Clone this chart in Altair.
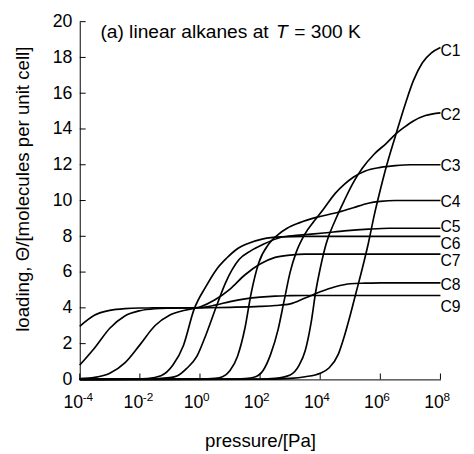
import altair as alt
import pandas as pd

# ---------------- data ----------------
series_names = ["C1", "C2", "C3", "C4", "C5", "C6", "C7", "C8", "C9"]

c1_logp = [-4, 2, 3, 3.5, 4, 4.3, 4.6, 4.8, 5, 5.2, 5.4, 5.6, 5.8, 6, 6.2, 6.5, 6.85, 7.1, 7.4, 7.7, 8]
c1_load = [0, 0.01, 0.06, 0.15, 0.35, 0.65, 1.4, 2.4, 3.6, 4.9, 6.2, 7.6, 9.2, 10.6, 11.9, 13.6, 15.5, 16.7, 17.7, 18.25, 18.55]

c2_logp = [-4, 2, 2.5, 3, 3.3, 3.5, 3.7, 3.85, 4, 4.2, 4.5, 4.8, 5.1, 5.4, 5.8, 6.2, 6.5, 6.8, 7.1, 7.5, 8]
c2_load = [0, 0.02, 0.06, 0.25, 0.8, 1.6, 3.2, 4.9, 6.2, 7.6, 8.9, 10.0, 11.0, 11.8, 12.6, 13.2, 13.7, 14.1, 14.45, 14.75, 14.9]

c3_logp = [-4, 1, 1.5, 1.8, 2.1, 2.35, 2.6, 2.8, 3, 3.2, 3.5, 3.8, 4.1, 4.5, 4.8, 5.1, 5.5, 6, 6.5, 7, 8]
c3_load = [0, 0.02, 0.05, 0.12, 0.5, 1.4, 2.8, 4.4, 6.0, 7.1, 8.15, 8.85, 9.5, 10.4, 10.9, 11.3, 11.65, 11.85, 11.95, 12.0, 12.0]

c4_logp = [-4, 0, 0.5, 0.75, 1, 1.25, 1.5, 1.7, 1.95, 2.3, 2.6, 2.9, 3.3, 3.9, 4.5, 5.1, 5.6, 6, 6.5, 8]
c4_load = [0, 0.02, 0.06, 0.15, 0.5, 1.3, 2.9, 4.8, 6.5, 7.6, 8.1, 8.45, 8.75, 9.07, 9.3, 9.6, 9.85, 9.95, 10.0, 10.0]

c5_logp = [-4, -2, -1, -0.75, -0.45, -0.1, 0.2, 0.55, 0.85, 1.3, 1.7, 2.1, 2.7, 3.2, 3.7, 4.2, 4.8, 5.6, 6.3, 8]
c5_load = [0, 0.01, 0.1, 0.2, 0.6, 1.3, 2.5, 4.1, 5.4, 6.7, 7.2, 7.55, 7.95, 8.05, 8.12, 8.2, 8.3, 8.4, 8.45, 8.45]

c6_logp = [-4, -2.5, -1.75, -1.3, -0.9, -0.55, -0.2, 0.2, 0.55, 0.9, 1.2, 1.6, 2.1, 2.7, 3.5, 8]
c6_load = [0, 0.01, 0.05, 0.2, 0.8, 1.9, 3.9, 5.2, 6.15, 6.8, 7.25, 7.6, 7.86, 7.97, 8.0, 8.0]

c7_logp = [-4, -3.5, -3, -2.5, -2, -1.5, -1, -0.5, 0, 0.5, 1, 1.5, 2, 2.5, 3, 3.5, 8]
c7_load = [0.04, 0.11, 0.34, 0.92, 1.93, 3.0, 3.6, 3.87, 4.05, 4.45, 5.05, 5.85, 6.45, 6.82, 6.95, 7.0, 7.0]

c8_logp = [-4, -3.5, -3, -2.5, -2, -1.5, -1, 0, 1, 2, 2.5, 3, 3.5, 4, 4.5, 5, 5.5, 6, 8]
c8_load = [0.8, 1.77, 2.86, 3.55, 3.84, 3.95, 3.98, 4.0, 4.03, 4.08, 4.13, 4.22, 4.55, 4.9, 5.18, 5.35, 5.38, 5.4, 5.4]

c9_logp = [-4, -3.5, -3, -2.5, -2, -1, 0, 0.5, 1, 1.5, 2, 2.5, 3, 3.5, 8]
c9_load = [2.97, 3.6, 3.86, 3.96, 3.99, 4.0, 4.02, 4.15, 4.35, 4.5, 4.6, 4.66, 4.68, 4.69, 4.69]

# loading at which each curve label sits (right end)
label_loading = [18.35, 14.8, 11.9, 9.9, 8.5, 7.55, 6.6, 5.3, 4.05]

xtick_values = [1e-4, 1e-2, 1, 1e2, 1e4, 1e6, 1e8]
xtick_base = "10"
xtick_exponents = ["-4", "-2", "0", "2", "4", "6", "8"]
ytick_values = [0, 2, 4, 6, 8, 10, 12, 14, 16, 18, 20]

x_title = "pressure/[Pa]"
y_title = "loading, Θ/[molecules per unit cell]"
note_parts = ["(a) linear alkanes at", "T", "= 300 K"]

# ---------------- build tables ----------------
all_logp = [c1_logp, c2_logp, c3_logp, c4_logp, c5_logp, c6_logp, c7_logp, c8_logp, c9_logp]
all_load = [c1_load, c2_load, c3_load, c4_load, c5_load, c6_load, c7_load, c8_load, c9_load]
rows = []
for name, lps, lds in zip(series_names, all_logp, all_load):
    for i, (lp, ld) in enumerate(zip(lps, lds)):
        rows.append({"series": name, "order": i, "pressure": 10.0 ** lp, "loading": ld})
df = pd.DataFrame(rows)

df_labels = pd.DataFrame({"series": series_names,
                          "pressure": [xtick_values[-1]] * len(series_names),
                          "loading": label_loading})
df_xt = pd.DataFrame({"pressure": xtick_values, "exp": xtick_exponents})
df_yt = pd.DataFrame({"loading": ytick_values})

W, H = 367, 364
FONT = "Liberation Sans"
FS = 18

x_scale = alt.Scale(type="log", domain=[xtick_values[0], xtick_values[-1]], nice=False)
y_scale = alt.Scale(domain=[ytick_values[0], ytick_values[-1]], nice=False)

x_axis = alt.Axis(values=xtick_values, labelExpr="'" + xtick_base + "'", ticks=False, grid=False,
                  domainColor="black", domainWidth=1, labelFontSize=FS, labelColor="black",
                  labelAlign="right", labelOffset=3,
                  labelPadding=15, labelFlush=False, title=x_title, titleFontSize=19,
                  titleFontWeight="normal", titleColor="black", titlePadding=20)
y_axis = alt.Axis(values=ytick_values, ticks=False, grid=False, domainColor="black",
                  domainWidth=1, labelFontSize=FS, labelColor="black", labelPadding=8,
                  title=y_title, titleFontSize=19, titleFontWeight="normal",
                  titleColor="black", titlePadding=20, titleY=170)

X = alt.X("pressure:Q", scale=x_scale, axis=x_axis, title=x_title)
Y = alt.Y("loading:Q", scale=y_scale, axis=y_axis, title=y_title)

lines = alt.Chart(df).mark_line(interpolate="monotone", color="black", strokeWidth=1.7).encode(
    x=X, y=Y, detail="series:N", order="order:Q",
)

xticks = alt.Chart(df_xt).mark_rule(color="black", strokeWidth=1).encode(
    x=X, y=alt.value(H), y2=alt.value(H - 6),
)
xexp = alt.Chart(df_xt).mark_text(align="left", baseline="top", dx=3, fontSize=12,
                                  color="black").encode(
    x=X, y=alt.value(H + 13), text="exp:N",
)
yticks = alt.Chart(df_yt).mark_rule(color="black", strokeWidth=1).encode(
    y=Y, x=alt.value(0), x2=alt.value(6),
)

labels = alt.Chart(df_labels).mark_text(align="left", baseline="middle", dx=0,
                                        fontSize=16, color="black").encode(
    x=X, y=Y, text="series:N",
)

NS = 19.5
note1 = alt.Chart(pd.DataFrame({"t": [note_parts[0]]})).mark_text(
    align="left", baseline="alphabetic", fontSize=NS, color="black").encode(
    x=alt.value(21), y=alt.value(17), text="t:N")
note2 = alt.Chart(pd.DataFrame({"t": [note_parts[1]]})).mark_text(
    align="left", baseline="alphabetic", fontSize=NS, fontStyle="italic", color="black").encode(
    x=alt.value(21 + 9.06 * NS + 2), y=alt.value(17), text="t:N")
note3 = alt.Chart(pd.DataFrame({"t": [note_parts[2]]})).mark_text(
    align="left", baseline="alphabetic", fontSize=NS, color="black").encode(
    x=alt.value(21 + 9.06 * NS + 2 + 0.9 * NS + 1), y=alt.value(17), text="t:N")

chart = alt.layer(lines, xticks, xexp, yticks, labels, note1, note2, note3).properties(
    width=W, height=H,
    padding={"left": 73, "top": 10, "right": 26, "bottom": 72},
    autosize=alt.AutoSizeParams(type="none"),
).configure(font=FONT).configure_view(stroke=None)

chart.save("out.html", embed_options={"renderer": "svg", "actions": False})
